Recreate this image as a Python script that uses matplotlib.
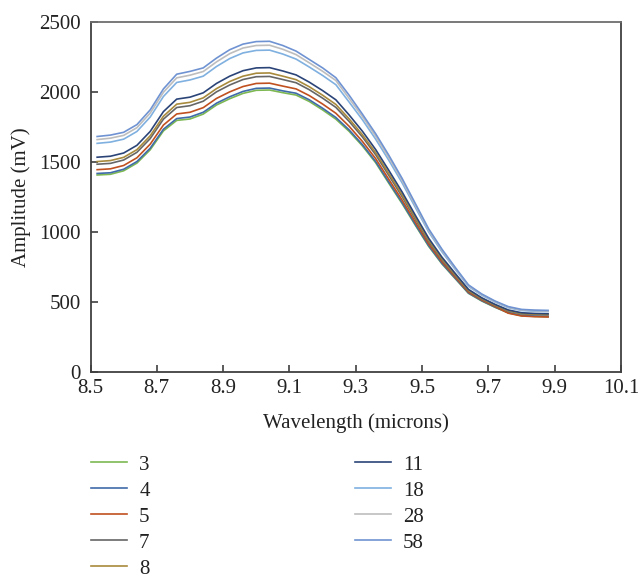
import matplotlib
matplotlib.use("Agg")
import matplotlib.pyplot as plt

wavelength = [8.52, 8.56, 8.60, 8.64, 8.68, 8.72, 8.76, 8.80, 8.84, 8.88,
              8.92, 8.96, 9.00, 9.04, 9.08, 9.12, 9.16, 9.20, 9.24, 9.28,
              9.32, 9.36, 9.40, 9.44, 9.48, 9.52, 9.56, 9.60, 9.64, 9.68,
              9.72, 9.76, 9.80, 9.84, 9.88]

s3 = [1405, 1410, 1435, 1490, 1585, 1720, 1795, 1805, 1840, 1905,
      1950, 1988, 2010, 2012, 1993, 1976, 1930, 1870, 1804, 1717,
      1613, 1493, 1345, 1200, 1045, 895, 770, 665, 560, 505,
      460, 420, 400, 395, 393]
s4 = [1416, 1421, 1446, 1501, 1596, 1732, 1808, 1819, 1853, 1918,
      1964, 2002, 2024, 2026, 2006, 1989, 1942, 1882, 1816, 1727,
      1622, 1501, 1353, 1207, 1051, 900, 774, 668, 562, 507,
      462, 422, 402, 397, 395]
s5 = [1443, 1449, 1473, 1528, 1625, 1762, 1841, 1853, 1886, 1952,
      1999, 2037, 2059, 2061, 2040, 2020, 1972, 1912, 1846, 1753,
      1645, 1522, 1373, 1225, 1067, 913, 785, 676, 568, 512,
      466, 418, 398, 393, 391]
s7 = [1482, 1488, 1512, 1567, 1665, 1804, 1887, 1900, 1932, 1999,
      2048, 2087, 2107, 2109, 2087, 2064, 2014, 1954, 1888, 1788,
      1677, 1550, 1401, 1250, 1088, 930, 799, 687, 577, 519,
      473, 433, 413, 408, 406]
s8 = [1501, 1508, 1531, 1586, 1685, 1825, 1911, 1924, 1956, 2022,
      2073, 2111, 2132, 2134, 2111, 2086, 2035, 1975, 1909, 1806,
      1693, 1565, 1415, 1263, 1099, 939, 807, 693, 581, 523,
      476, 436, 416, 411, 409]
s11 = [1532, 1539, 1562, 1617, 1716, 1858, 1947, 1961, 1992, 2059,
       2111, 2150, 2170, 2172, 2148, 2120, 2068, 2008, 1942, 1834,
       1718, 1587, 1437, 1283, 1116, 953, 818, 702, 588, 528,
       481, 441, 421, 416, 414]
s18 = [1631, 1640, 1661, 1716, 1819, 1966, 2066, 2084, 2111, 2180,
       2237, 2277, 2295, 2297, 2269, 2233, 2176, 2116, 2050, 1926,
       1800, 1661, 1509, 1348, 1172, 998, 856, 731, 609, 546,
       497, 457, 437, 432, 430]
s28 = [1658, 1668, 1688, 1743, 1847, 1996, 2099, 2118, 2144, 2213,
       2272, 2312, 2330, 2332, 2303, 2265, 2206, 2146, 2080, 1952,
       1823, 1682, 1529, 1366, 1188, 1010, 867, 739, 615, 551,
       501, 461, 441, 436, 434]
s58 = [1680, 1690, 1710, 1765, 1870, 2020, 2125, 2145, 2170, 2240,
       2300, 2340, 2358, 2360, 2330, 2290, 2230, 2170, 2100, 1975,
       1840, 1700, 1545, 1380, 1200, 1020, 875, 745, 620, 555,
       505, 465, 445, 440, 438]

labels = ["3", "4", "5", "7", "8", "11", "18", "28", "58"]
series = [s3, s4, s5, s7, s8, s11, s18, s28, s58]
colors = ["#7DB852", "#3F6BA8", "#C0501F", "#666666", "#A88A3C",
          "#2B4478", "#7FB0E0", "#BDBDBD", "#6F93D2"]

xticks = [8.5, 8.7, 8.9, 9.1, 9.3, 9.5, 9.7, 9.9, 10.1]
yticks = [0, 500, 1000, 1500, 2000, 2500]

plt.rcParams['font.family'] = ['Liberation Serif', 'DejaVu Serif']

FS = 15

fig = plt.figure(figsize=(6.38, 5.81), dpi=100)
ax = fig.add_axes([90.5 / 638, 1 - 371.7 / 581, (621 - 90.5) / 638, 350 / 581])

lines = []
for lab, ys, c in zip(labels, series, colors):
    ln, = ax.plot(wavelength, ys, color=c, lw=1.2, label=lab)
    lines.append(ln)

ax.set_xlim(8.5, 10.1)
ax.set_ylim(0, 2500)
ax.set_xticks(xticks)
ax.set_xticklabels([f"{t:.1f}" for t in xticks])
ax.set_yticks(yticks)
ax.tick_params(direction='in', length=5, width=1.2, colors='#404040',
               labelsize=FS, labelcolor='#222222')
ax.tick_params(axis='y', pad=7)
ax.tick_params(axis='x', pad=5.5)
for side in ['left', 'bottom', 'right']:
    ax.spines[side].set_color('#404040')
    ax.spines[side].set_linewidth(1.3)
ax.spines['top'].set_color('#6E6E6E')
ax.spines['top'].set_linewidth(1.3)

ax.set_xlabel("Wavelength (microns)", fontsize=FS, color='#222222', labelpad=11)
ax.set_ylabel("Amplitude (mV)", fontsize=FS, color='#222222', labelpad=6)

leg_kw = dict(loc='upper left', frameon=False, fontsize=FS, handlelength=1.73,
              handletextpad=0.58, labelspacing=0.31, borderpad=0, borderaxespad=0,
              labelcolor='#222222')
fig.legend(lines[:5], labels[:5], bbox_to_anchor=(91 / 638, 1 - 455 / 581), **leg_kw)
fig.legend(lines[5:], labels[5:], bbox_to_anchor=(355 / 638, 1 - 455 / 581), **leg_kw)

fig.savefig("out.png", dpi=100)
